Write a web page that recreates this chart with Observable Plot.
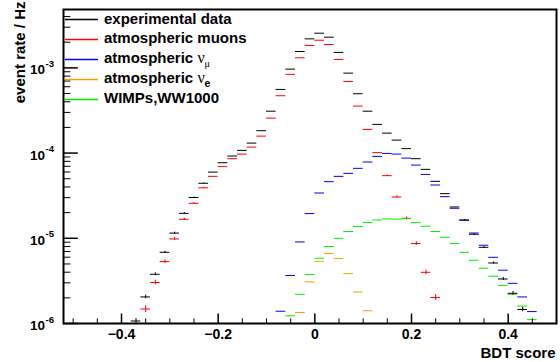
<!DOCTYPE html>
<html><head><meta charset="utf-8">
<script src="https://cdn.jsdelivr.net/npm/d3@7"></script>
<script src="https://cdn.jsdelivr.net/npm/@observablehq/plot@0.6"></script>
<style>
html,body{margin:0;padding:0;background:#fff;}
#chart{width:560px;height:362px;}
svg{display:block;}
g[aria-label="x-axis tick label"] text{font-weight:bold;}
</style></head><body><div id="chart"></div>
<script>
// Bin centers of the BDT score histogram (bin width 0.02)
const binCenters = [-0.37,-0.35,-0.33,-0.31,-0.29,-0.27,-0.25,-0.23,-0.21,-0.19,-0.17,-0.15,-0.13,-0.11,-0.09,-0.07,-0.05,-0.03,-0.01,0.01,0.03,0.05,0.07,0.09,0.11,0.13,0.15,0.17,0.19,0.21,0.23,0.25,0.27,0.29,0.31,0.33,0.35,0.37,0.39,0.41,0.43,0.45];
const binWidth = 0.02;

// event rate / Hz per bin
const experimentalData = [1.07e-6,2.05e-6,3.78e-6,6.85e-6,1.15e-5,1.96e-5,3.01e-5,4.42e-5,5.98e-5,7.71e-5,9.23e-5,1.076e-4,1.31e-4,1.83e-4,3.10e-4,5.58e-4,9.66e-4,1.556e-3,2.19e-3,2.55e-3,2.29e-3,1.517e-3,8.67e-4,4.97e-4,3.10e-4,2.17e-4,1.714e-4,1.419e-4,1.127e-4,8.59e-5,6.44e-5,4.66e-5,3.34e-5,2.33e-5,1.64e-5,1.114e-5,7.83e-6,5.13e-6,3.33e-6,2.26e-6,1.46e-6,null];
const atmMuons = [null,1.48e-6,3.03e-6,5.33e-6,9.82e-6,1.67e-5,2.57e-5,3.91e-5,5.33e-5,6.93e-5,8.59e-5,9.73e-5,1.175e-4,1.581e-4,2.57e-4,4.71e-4,8.38e-4,1.312e-3,1.832e-3,2.11e-3,1.88e-3,1.256e-3,6.93e-4,3.56e-4,1.897e-4,1.012e-4,5.43e-5,3.05e-5,1.714e-5,8.67e-6,3.99e-6,2.02e-6,null,null,null,null,null,null,null,null,null,null];
const atmNuMu = [null,null,null,null,null,null,null,null,null,null,null,null,null,null,null,1.393e-6,3.66e-6,9.06e-6,1.95e-5,3.40e-5,4.62e-5,5.33e-5,5.78e-5,6.62e-5,7.85e-5,9.14e-5,9.91e-5,9.73e-5,8.73e-5,7.23e-5,5.62e-5,4.22e-5,3.08e-5,2.25e-5,1.626e-5,1.153e-5,8.28e-6,5.98e-6,4.22e-6,2.96e-6,2.05e-6,1.38e-6];
const atmNuE = [null,null,null,null,null,null,null,null,null,null,null,null,null,null,null,null,null,1.345e-6,3.08e-6,5.37e-6,6.62e-6,5.78e-6,3.85e-6,2.34e-6,1.41e-6,null,null,null,null,null,null,null,null,null,null,null,null,null,null,null,null,null];
const wimps = [null,null,null,null,null,null,null,null,null,null,null,null,null,null,null,null,1.23e-6,2.20e-6,3.75e-6,5.83e-6,8.0e-6,1.0e-5,1.2e-5,1.371e-5,1.528e-5,1.64e-5,1.69e-5,1.68e-5,1.70e-5,1.528e-5,1.384e-5,1.2e-5,1.028e-5,8.67e-6,6.85e-6,5.52e-6,4.45e-6,3.59e-6,2.80e-6,2.21e-6,1.60e-6,1.11e-6];

// relative statistical errors (visible ones only)
const errData = [0.07,0.05,0.04,0.03,0.025,0.02,0.015,0.01,0,0,0,0,0,0,0,0,0,0,0,0,0,0,0,0,0,0,0,0,0,0,0,0,0,0,0.015,0.02,0.025,0.03,0.04,0.05,0.06,0];
const errMuons = [0,0.09,0.06,0.05,0.04,0.03,0.02,0.015,0,0,0,0,0,0,0,0,0,0,0,0,0,0,0,0,0,0,0.02,0.03,0.04,0.05,0.06,0.08,0,0,0,0,0,0,0,0,0,0];

// axis ticks
const xMajorTicks = [-0.4,-0.2,0,0.2,0.4];
const xMinorTicks = [-0.5,-0.45,-0.35,-0.3,-0.25,-0.15,-0.1,-0.05,0.05,0.1,0.15,0.25,0.3,0.35,0.45];
const yMajorTicks = [1e-6,1e-5,1e-4,1e-3];
const yMajorExponents = ["-6","-5","-4","-3"];
const yMinorTicks = [2e-6,3e-6,4e-6,5e-6,6e-6,7e-6,8e-6,9e-6,2e-5,3e-5,4e-5,5e-5,6e-5,7e-5,8e-5,9e-5,2e-4,3e-4,4e-4,5e-4,6e-4,7e-4,8e-4,9e-4,2e-3,3e-3,4e-3];
const xDomain = [-0.52, 0.5];
const yDomain = [1e-6, 4.84e-3];

// legend
const legendLabels = ["experimental data","atmospheric muons","atmospheric ν_μ","atmospheric ν_e","WIMPs,WW1000"];
const seriesColors = ["#000000","#ff0000","#0000ff","#f5a000","#00ee00"];

const FONT = "'Liberation Sans', Arial, Helvetica, sans-serif";

function rowsOf(values, errs) {
  const out = [];
  values.forEach((v, i) => { if (v != null) out.push({c: binCenters[i], v, e: errs ? errs[i] : 0}); });
  return out;
}
const seriesValues = [experimentalData, atmMuons, atmNuMu, atmNuE, wimps];
const seriesErrs = [errData, errMuons, null, null, null];
const seriesRows = seriesValues.map((vals, k) => rowsOf(vals, seriesErrs[k]));

const drawOrder = [1, 2, 3, 4, 0];
const dataMarks = [];
for (const k of drawOrder) {
  const rows = seriesRows[k];
  dataMarks.push(Plot.ruleY(rows, {x1: d => d.c - binWidth / 2, x2: d => d.c + binWidth / 2, y: "v", stroke: seriesColors[k], strokeWidth: 1}));
  const er = rows.filter(d => d.e > 0);
  if (er.length) dataMarks.push(Plot.ruleX(er, {x: "c", y1: d => d.v * (1 - d.e), y2: d => d.v * (1 + d.e), stroke: seriesColors[k], strokeWidth: 1}));
}

const fmtX = d => d === 0 ? "0" : d.toFixed(1).replace("-", "\u2212");

const plot = Plot.plot({
  width: 560,
  height: 362,
  marginLeft: 63,
  marginRight: 4,
  marginTop: 9,
  marginBottom: 39,
  style: {fontFamily: FONT, background: "#fff", color: "#000"},
  x: {domain: xDomain, axis: null},
  y: {type: "log", domain: yDomain, axis: null},
  marks: [
    ...dataMarks,
    Plot.axisX(xMinorTicks, {anchor: "bottom", tickSize: -4.7, tickFormat: () => "", label: null, stroke: "#000"}),
    Plot.axisX(xMajorTicks, {anchor: "bottom", tickSize: -9.5, strokeWidth: 1.5, tickPadding: 25, tickFormat: fmtX, label: null, fontSize: 14, fontWeight: "bold", lineAnchor: "bottom", stroke: "#000", fill: "#000"}),
    Plot.axisY(yMinorTicks, {anchor: "left", tickSize: -7.4, tickFormat: () => "", label: null, stroke: "#000"}),
    Plot.axisY(yMajorTicks, {anchor: "left", tickSize: -14.8, strokeWidth: 1.5, tickFormat: () => "", label: null, stroke: "#000"}),
    Plot.text(yMajorTicks, {y: d => d, frameAnchor: "left", text: () => "10", textAnchor: "end", lineAnchor: "bottom", dx: -18.5, dy: 6.5, fontSize: 13.5, fontWeight: "bold", fill: "#000"}),
    Plot.text(yMajorTicks, {y: d => d, frameAnchor: "left", text: (d, i) => yMajorExponents[i], textAnchor: "start", lineAnchor: "bottom", dx: -18, dy: -1, fontSize: 9.5, fontWeight: "bold", fill: "#000"}),
    Plot.text(["BDT score"], {frameAnchor: "bottom-right", textAnchor: "end", lineAnchor: "bottom", dx: -1, dy: 34, fontSize: 15, fontWeight: "bold", fill: "#000"}),
    Plot.text(["event rate / Hz"], {frameAnchor: "top-left", rotate: -90, textAnchor: "end", lineAnchor: "bottom", dx: -39, dy: -8, fontSize: 15, fontWeight: "bold", fill: "#000"}),
    Plot.frame({stroke: "#000", strokeWidth: 2})
  ]
});

document.getElementById("chart").appendChild(plot);

// legend (inside the frame, top-left)
const svg = d3.select(plot);
const lg = svg.append("g").attr("font-family", FONT).attr("font-weight", "bold").attr("font-size", 15)
  .attr("fill", "#000").attr("text-anchor", "start");
const legendLineX = [65, 98], legendTextX = 104, legendY0 = 19, legendStep = 19.9;
legendLabels.forEach((label, i) => {
  const y = legendY0 + i * legendStep;
  lg.append("path")
    .attr("d", `M${legendLineX[0]},${Math.round(y) + 0.5}H${legendLineX[1]}`)
    .style("stroke", seriesColors[i]).style("stroke-width", "1.3px").style("fill", "none");
  const t = lg.append("text").attr("x", legendTextX).attr("y", y + 4.5).attr("text-anchor", "start");
  const m = label.match(/^(.*?)ν_(.)$/);
  if (m) {
    t.append("tspan").text(m[1]);
    t.append("tspan").attr("font-family", "'Liberation Serif', serif").attr("font-weight", "normal").attr("font-size", 16).text("ν");
    const greek = m[2] === "μ";
    t.append("tspan").attr("dy", 3.5).attr("font-size", greek ? 10 : 10.5)
      .attr("font-weight", greek ? "normal" : "bold")
      .attr("font-family", greek ? "'Liberation Serif', serif" : FONT).text(m[2]);
  } else {
    t.text(label);
  }
});
</script>
</body></html>
